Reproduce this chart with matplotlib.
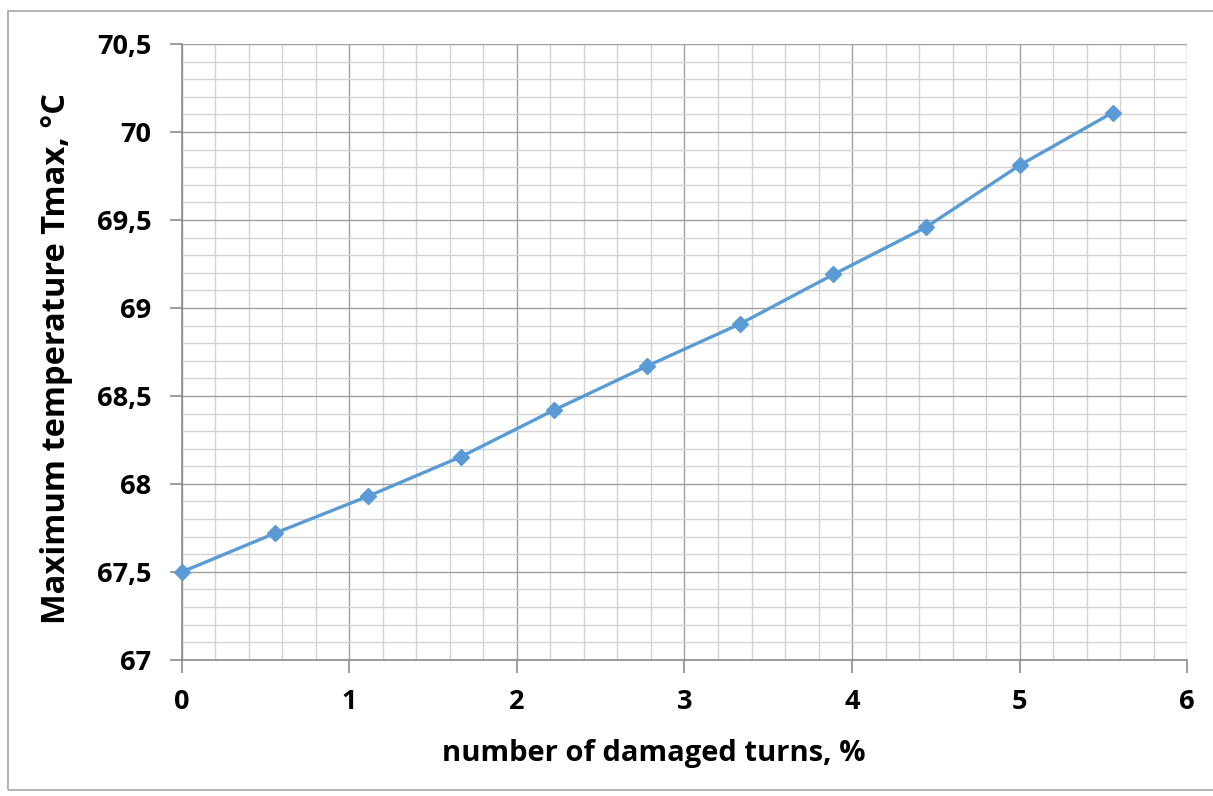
import matplotlib
matplotlib.use("Agg")
from matplotlib import pyplot as plt
from matplotlib.ticker import MultipleLocator, FuncFormatter
from matplotlib.patches import Rectangle

# damaged turns (%) and max temperature
damaged_pct = [0, 0.556, 1.111, 1.667, 2.222, 2.778, 3.333, 3.889, 4.444, 5.0, 5.556]
t_max = [67.5, 67.72, 67.93, 68.155, 68.42, 68.67, 68.91, 69.19, 69.46, 69.81, 70.11]

x_label = "number of damaged turns, %"
y_label = "Maximum temperature Tmax, °C"

plt.rcParams['font.family'] = ['Open Sans', 'DejaVu Sans']
plt.rcParams['font.weight'] = 'bold'

fig = plt.figure(figsize=(12.13, 7.96), dpi=100)
ax = fig.add_axes([0.150, 0.171, 0.8286, 0.7738])

# outer chart border like the spreadsheet frame
fig.patches.append(Rectangle((8 / 1213, 6 / 796), 1.0, 1 - 17 / 796, transform=fig.transFigure,
                             fill=False, edgecolor='#a6a6a6', linewidth=1.2))

ax.plot(damaged_pct, t_max, color='#5b9bd5', linewidth=2.4, marker='D', markersize=8.5,
        zorder=5, clip_on=False)

ax.set_xlim(0, 6)
ax.set_ylim(67, 70.5)
ax.xaxis.set_major_locator(MultipleLocator(1))
ax.xaxis.set_minor_locator(MultipleLocator(0.2))
ax.yaxis.set_major_locator(MultipleLocator(0.5))
ax.yaxis.set_minor_locator(MultipleLocator(0.1))
ax.yaxis.set_major_formatter(FuncFormatter(lambda v, p: f"{v:g}".replace('.', ',')))

ax.grid(which='minor', color='#d4d4d4', linewidth=1.0)
ax.grid(which='major', color='#a0a0a0', linewidth=1.0)
ax.set_axisbelow(True)

for s in ['top', 'right']:
    ax.spines[s].set_visible(False)
for s in ['left', 'bottom']:
    ax.spines[s].set_color('#8c8c8c')
    ax.spines[s].set_linewidth(1.2)

ax.tick_params(which='major', direction='out', length=9, color='#8c8c8c', width=1.2,
               labelsize=19.5, pad=13)
ax.tick_params(which='minor', length=0)
ax.tick_params(axis='x', pad=12)

ax.set_xlabel(x_label, fontsize=21, fontweight='bold')
ax.set_ylabel(y_label, fontsize=23.5, fontweight='bold')
ax.xaxis.set_label_coords(0.469, -0.129)
ax.yaxis.set_label_coords(-0.108, 0.489)

fig.savefig("out.png", dpi=100)
